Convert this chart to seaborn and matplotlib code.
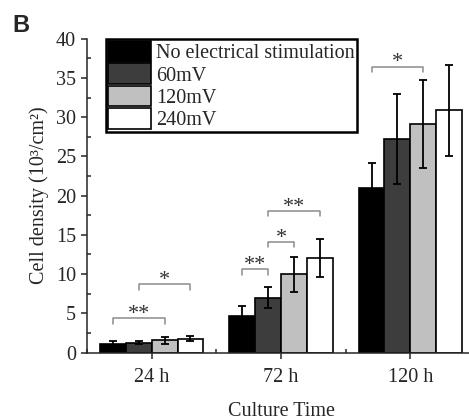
import matplotlib
matplotlib.use("Agg")
import numpy as np
import pandas as pd
import matplotlib.pyplot as plt
import seaborn as sns
from matplotlib.patches import Patch
from matplotlib.ticker import MultipleLocator, FixedLocator

# ========== DATA ==========
times = ["24 h", "72 h", "120 h"]
groups = ["No electrical stimulation", "60mV", "120mV", "240mV"]
colors = ["#000000", "#3d3d3d", "#c0c0c0", "#ffffff"]

# mean cell density (10^3/cm^2), one list per culture time, groups in order
mean_24 = [1.03, 1.25, 1.55, 1.77]
mean_72 = [4.7, 6.99, 9.96, 12.03]
mean_120 = [20.97, 27.2, 29.1, 30.85]
# standard deviations
sd_24 = [0.4, 0.22, 0.43, 0.35]
sd_72 = [1.27, 1.33, 2.2, 2.45]
sd_120 = [3.2, 5.7, 5.6, 5.8]

# significance brackets: time index, group a, group b, height, label
sig_time = [0, 0, 1, 1, 1, 2]
sig_a = [0, 1, 0, 1, 1, 0]
sig_b = [2, 3, 1, 2, 3, 2]
sig_y = [4.35, 8.7, 10.6, 14.1, 18.05, 36.45]
sig_label = ["**", "*", "**", "*", "**", "*"]

means = [mean_24, mean_72, mean_120]
sds = [sd_24, sd_72, sd_120]

rows = []
for t, m, s in zip(times, means, sds):
    for g, mv, sv in zip(groups, m, s):
        rows.append({"time": t, "group": g, "density": mv, "sd": sv})
df = pd.DataFrame(rows)

# ========== STYLE ==========
sns.set_style("ticks")
plt.rcParams["font.family"] = ["Liberation Serif", "DejaVu Serif"]

fig = plt.figure(figsize=(4.69, 4.2), dpi=100)
ax = fig.add_axes([0.1855, 0.1607, 0.8273, 0.7472])

sns.barplot(data=df, x="time", y="density", hue="group", order=times,
            hue_order=groups, palette=colors, saturation=1, width=0.8,
            edgecolor="black", linewidth=1.2, errorbar=None, legend=False, ax=ax)

# bar centres from the drawn bars (containers follow hue order)
centers = []
for cont in ax.containers:
    centers.append([b.get_x() + b.get_width() / 2 for b in cont])
centers = np.array(centers)  # [group][time]

for gi, g in enumerate(groups):
    sub = df[df["group"] == g].set_index("time").loc[times]
    ax.errorbar(centers[gi], sub["density"], yerr=sub["sd"], fmt="none",
                ecolor="black", elinewidth=1.3, capsize=3, capthick=1.3, zorder=5)

# significance brackets
for t, a, b, y, lab in zip(sig_time, sig_a, sig_b, sig_y, sig_label):
    xa, xb = centers[a][t], centers[b][t]
    ax.plot([xa, xa, xb, xb], [y - 0.7, y, y, y - 0.7], color="#8c8c8c", lw=1.1)
    ax.text((xa + xb) / 2, y - 0.1, lab, ha="center", va="baseline",
            fontsize=16, color="#333333")

ax.set_xlim(-0.5, 2.5)
ax.set_ylim(0, 40)
ax.yaxis.set_major_locator(MultipleLocator(5))
ax.yaxis.set_minor_locator(MultipleLocator(2.5))
ax.xaxis.set_minor_locator(FixedLocator([-0.5, 0.5, 1.5, 2.5]))
ax.tick_params(which="major", direction="out", length=4, width=1.1, labelsize=14.5, pad=4)
ax.tick_params(which="minor", direction="in", length=3, width=1.1)
ax.tick_params(axis="x", which="major", pad=7)

sns.despine(ax=ax)
for sp in ["left", "bottom"]:
    ax.spines[sp].set_linewidth(1.1)

ax.set_xlabel("Culture Time", fontsize=14.5, labelpad=11)
ax.set_ylabel("Cell density (10³/cm²)", fontsize=14.5, labelpad=5)

handles = [Patch(facecolor=c, edgecolor="black", linewidth=1.2) for c in colors]
leg = ax.legend(handles, groups, loc="upper left", bbox_to_anchor=(0.049, 1.0),
                borderaxespad=0, fontsize=14.5, handlelength=2.1, handleheight=1.22,
                labelspacing=0, borderpad=0.12, handletextpad=0.25, fancybox=False)
leg.get_frame().set_edgecolor("black")
leg.get_frame().set_linewidth(1.8)
leg.get_frame().set_alpha(1)

fig.text(0.027, 1 - 32 / 420, "B", fontsize=17, fontweight="bold",
         family="Liberation Sans", va="baseline")

fig.savefig("out.png", dpi=100)
